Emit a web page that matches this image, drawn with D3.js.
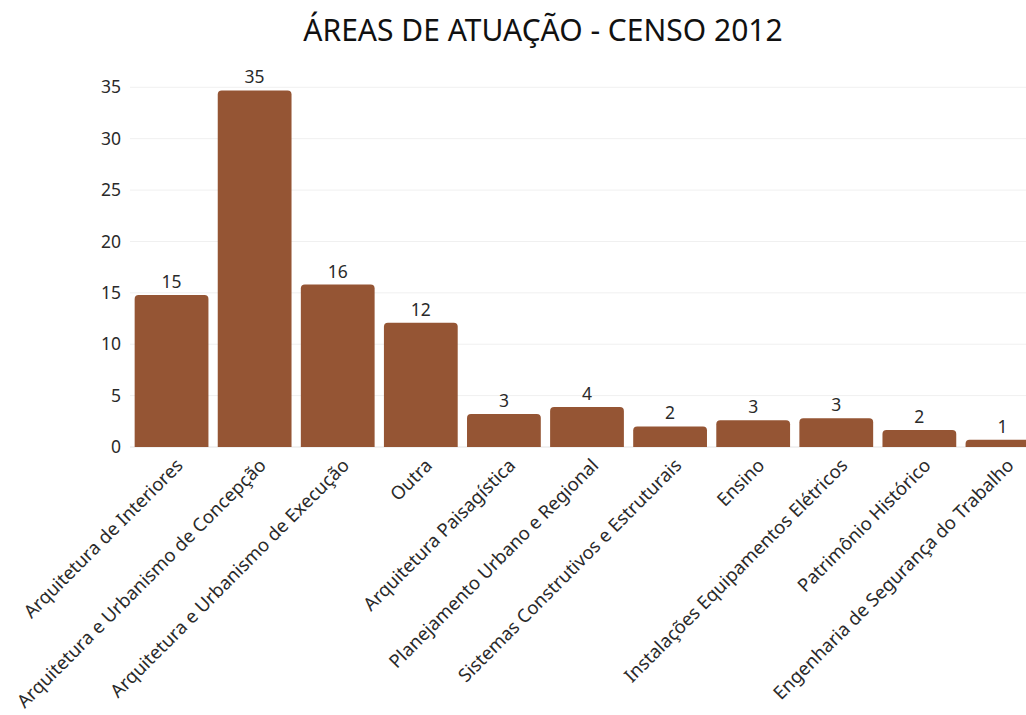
<!DOCTYPE html>
<html>
<head>
<meta charset="utf-8">
<script src="https://cdn.jsdelivr.net/npm/d3@7"></script>
<style>
  html, body { margin: 0; padding: 0; background: #fff; }
  svg { display: block; font-family: "Noto Sans", "Open Sans", sans-serif; }
</style>
</head>
<body>
<svg id="chart" width="1026" height="715"></svg>
<script>
// Áreas de atuação (censo 2012)
const categories = [
  "Arquitetura de Interiores",
  "Arquitetura e Urbanismo de Concepção",
  "Arquitetura e Urbanismo de Execução",
  "Outra",
  "Arquitetura Paisagística",
  "Planejamento Urbano e Regional",
  "Sistemas Construtivos e Estruturais",
  "Ensino",
  "Instalações Equipamentos Elétricos",
  "Patrimônio Histórico",
  "Engenharia de Segurança do Trabalho"
];
const values = [14.8, 34.7, 15.8, 12.1, 3.2, 3.9, 2.0, 2.6, 2.8, 1.65, 0.7];
const yTicks = [0, 5, 10, 15, 20, 25, 30, 35];
const title = "ÁREAS DE ATUAÇÃO - CENSO 2012";

const svg = d3.select("#chart");
const barColor = "#955534";
const textColor = "#2a2a2a";
const font = "'Noto Sans', sans-serif";

const x = d3.scaleBand()
  .domain(categories)
  .range([130, 1044])
  .paddingInner(0.112)
  .paddingOuter(0.056);

const y = d3.scaleLinear()
  .domain([0, 35])
  .range([447, 87.3]);

// horizontal gridlines
svg.append("g")
  .selectAll("line")
  .data(yTicks)
  .join("line")
  .attr("x1", 130)
  .attr("x2", 1026)
  .attr("y1", d => y(d))
  .attr("y2", d => y(d))
  .attr("stroke", d => d === 0 ? "#e4e4e4" : "#f0f0f0")
  .attr("stroke-width", 1);

// y axis labels
const yAxis = d3.axisLeft(y).tickValues(yTicks).tickSize(0).tickPadding(0);
const gy = svg.append("g")
  .attr("transform", "translate(121,0)")
  .call(yAxis);
gy.select(".domain").remove();
gy.selectAll("text")
  .attr("font-size", 17.5)
  .attr("fill", textColor)
  .attr("font-family", font);

// bars with rounded top corners
const r = 4;
function barPath(d, i) {
  const x0 = x(categories[i]);
  const w = x.bandwidth();
  const y0 = y(0);
  const y1 = y(d);
  const rr = Math.min(r, (y0 - y1));
  return `M${x0},${y0}V${y1 + rr}Q${x0},${y1} ${x0 + rr},${y1}` +
         `H${x0 + w - rr}Q${x0 + w},${y1} ${x0 + w},${y1 + rr}V${y0}Z`;
}
svg.append("g")
  .selectAll("path")
  .data(values)
  .join("path")
  .attr("d", barPath)
  .attr("fill", barColor);

// value labels above bars
const fmt = d3.format(".0f");
svg.append("g")
  .selectAll("text")
  .data(values)
  .join("text")
  .attr("x", (d, i) => x(categories[i]) + x.bandwidth() / 2)
  .attr("y", d => y(d) - 7)
  .attr("text-anchor", "middle")
  .attr("font-size", 17.5)
  .attr("font-family", font)
  .attr("fill", textColor)
  .text(d => fmt(d));

// x axis labels, rotated
const xAxis = d3.axisBottom(x).tickSize(0).tickPadding(0);
const gx = svg.append("g")
  .attr("transform", "translate(0,447)")
  .call(xAxis);
gx.select(".domain").remove();
gx.selectAll("text")
  .attr("font-size", 18.5)
  .attr("fill", textColor)
  .attr("font-family", font)
  .attr("text-anchor", "end")
  .attr("dy", "0.35em")
  .attr("transform", "translate(8,15) rotate(-45)");

// title
svg.append("text")
  .attr("x", 543)
  .attr("y", 41)
  .attr("text-anchor", "middle")
  .attr("font-size", 30)
  .attr("font-family", font)
  .attr("fill", "#111")
  .text(title);
</script>
</body>
</html>
